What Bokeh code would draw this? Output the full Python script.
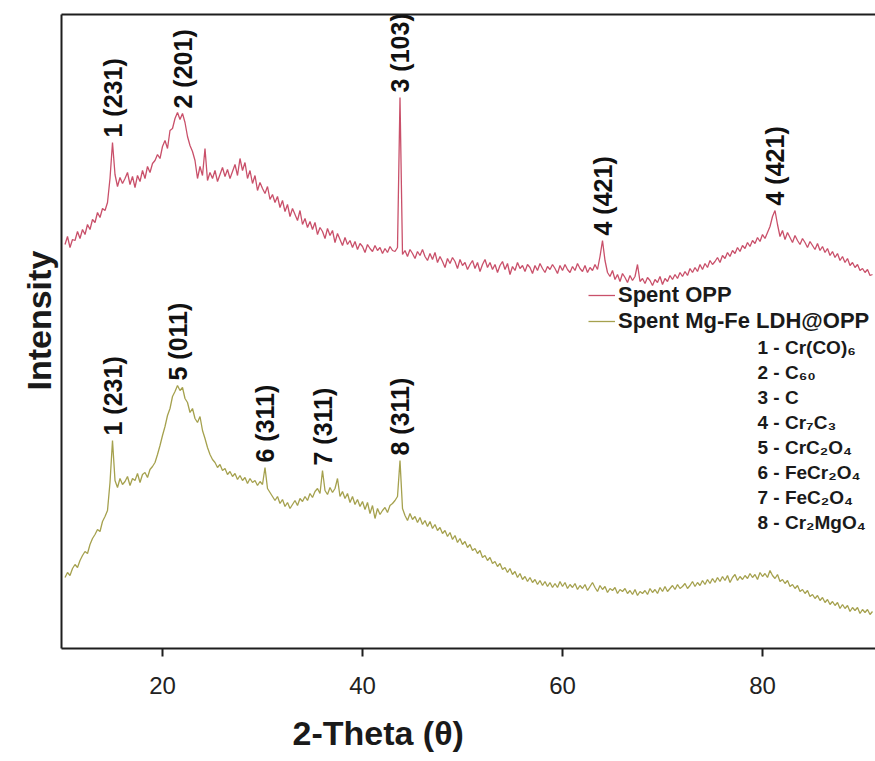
import numpy as np
from bokeh.plotting import figure
from bokeh.models import (Range1d, LinearAxis, Legend, LegendItem, Label, Title,
                          FixedTicker, ColumnDataSource)
from bokeh.core.properties import value
from bokeh.embed import file_html
from bokeh.resources import INLINE

# ---------------- data ----------------
two_theta = np.round(np.arange(10.25, 91.01, 0.25), 2)

spent_opp = [
    404, 412, 401, 409, 408, 417, 410, 419, 414, 424, 419, 429, 426, 436, 431, 440,
    438, 446, 470, 506, 474, 462, 471, 465, 470, 476, 464, 472, 461, 473, 467, 478,
    470, 482, 476, 485, 488, 494, 490, 502, 508, 500, 518, 520, 530, 536, 529, 535,
    526, 512, 503, 497, 488, 470, 482, 473, 500, 468, 476, 470, 478, 467, 474, 481,
    472, 479, 470, 477, 484, 473, 490, 478, 486, 470, 478, 465, 473, 458, 466, 460,
    455, 462, 449, 454, 446, 452, 441, 448, 437, 444, 432, 440, 434, 428, 438, 424,
    430, 421, 427, 419, 426, 414, 421, 417, 410, 420, 413, 418, 406, 415, 409, 403,
    411, 404, 408, 401, 407, 399, 405, 402, 396, 404, 400, 397, 403, 398, 401, 395,
    400, 396, 402, 398, 397, 401, 551, 394, 398, 392, 399, 395, 390, 397, 393, 399,
    392, 388, 395, 389, 396, 386, 392, 387, 381, 390, 385, 391, 387, 380, 389, 383,
    386, 379, 384, 388, 380, 386, 377, 384, 389, 381, 386, 379, 384, 376, 383, 387,
    379, 385, 374, 382, 378, 386, 380, 383, 377, 384, 381, 375, 383, 378, 385, 380,
    376, 382, 379, 384, 380, 375, 383, 378, 384, 379, 376, 382, 378, 385, 380, 377,
    383, 376, 381, 378, 384, 379, 392, 408, 388, 376, 372, 378, 369, 374, 367, 375,
    371, 366, 373, 368, 372, 384, 367, 370, 365, 371, 368, 363, 369, 366, 372, 364,
    370, 367, 373, 369, 374, 370, 376, 372, 377, 373, 380, 376, 381, 377, 384, 379,
    385, 381, 388, 384, 387, 391, 386, 393, 390, 396, 392, 398, 395, 401, 397, 403,
    400, 406, 402, 408, 405, 411, 407, 414, 410, 416, 422, 432, 438, 424, 412, 418,
    409, 416, 411, 406, 413, 408, 404, 410, 406, 401, 407, 403, 399, 405, 398, 402,
    396, 400, 393, 397, 391, 395, 388, 392, 386, 390, 383, 386, 381, 384, 378, 380,
    376, 379, 373, 374,
]

spent_mgfe_ldh = [
    71, 76, 73, 80, 84, 81, 88, 93, 97, 95, 104, 110, 114, 119, 117, 127,
    132, 138, 166, 208, 168, 161, 170, 164, 167, 172, 163, 170, 168, 175, 166, 174,
    176, 171, 179, 182, 186, 194, 203, 213, 222, 233, 240, 252, 257, 263, 258, 261,
    250, 246, 236, 240, 230, 226, 232, 218, 210, 201, 194, 189, 186, 181, 184, 178,
    180, 174, 177, 172, 175, 169, 173, 168, 171, 165, 170, 166, 168, 163, 167, 164,
    181, 160, 156, 152, 148, 152, 145, 149, 142, 146, 140, 144, 148, 143, 150, 147,
    152, 148, 155, 151, 157, 160, 155, 178, 158, 154, 161, 156, 160, 170, 152, 157,
    150, 155, 146, 152, 144, 149, 142, 147, 139, 146, 135, 143, 130, 140, 134, 138,
    141, 136, 143, 145, 148, 152, 188, 140, 133, 128, 135, 129, 132, 126, 131, 124,
    128, 122, 127, 120, 124, 118, 121, 115, 118, 112, 116, 109, 113, 106, 110, 104,
    107, 101, 104, 98, 100, 95, 98, 91, 93, 88, 91, 85, 87, 82, 85, 79,
    81, 76, 80, 74, 77, 71, 75, 69, 72, 67, 71, 66, 69, 64, 68, 63,
    67, 62, 66, 61, 65, 61, 67, 62, 66, 60, 64, 61, 65, 59, 63, 60,
    64, 58, 62, 66, 61, 57, 63, 59, 62, 56, 60, 58, 61, 55, 59, 57,
    60, 55, 58, 54, 59, 53, 57, 55, 58, 54, 60, 56, 59, 55, 61, 57,
    62, 57, 60, 63, 59, 64, 60, 62, 65, 60, 63, 67, 62, 66, 63, 68,
    64, 69, 65, 70, 66, 71, 67, 72, 68, 73, 66, 71, 74, 68, 72, 69,
    73, 70, 75, 71, 74, 69, 76, 72, 75, 71, 78, 73, 70, 74, 67, 69,
    65, 68, 62, 64, 60, 63, 57, 59, 55, 58, 52, 54, 50, 53, 48, 51,
    46, 49, 44, 47, 43, 46, 40, 44, 40, 43, 37, 41, 38, 41, 35, 39,
    36, 39, 34, 37,
]

opp_peaks = [15.0, 22.0, 43.75, 64.0, 81.25]
opp_peak_labels = ["1 (231)", "2 (201)", "3 (103)", "4 (421)", "4 (421)"]
ldh_peaks = [15.0, 21.5, 30.25, 36.0, 43.75]
ldh_peak_labels = ["1 (231)", "5 (011)", "6 (311)", "7 (311)", "8 (311)"]

phases = ["1 - Cr(CO)\u2086", "2 - C\u2086\u2080", "3 - C", "4 - Cr\u2087C\u2083",
          "5 - CrC\u2082O\u2084", "6 - FeCr\u2082O\u2084", "7 - FeC\u2082O\u2084",
          "8 - Cr\u2082MgO\u2084"]

x_ticks = [20, 40, 60, 80]

assert len(spent_opp) == len(two_theta) == len(spent_mgfe_ldh)

# ---------------- styles ----------------
RED = "#c9506a"
GREEN = "#a5a14e"
AXIS = "#1e1e1e"
FONT = "Liberation Sans"

p = figure(width=875, height=761, x_range=Range1d(9.9, 91.3), y_range=Range1d(0, 634),
           output_backend="svg", toolbar_location=None,
           min_border_left=61, min_border_right=0, min_border_top=14, min_border_bottom=113)
p.outline_line_color = None
p.grid.visible = False
p.background_fill_color = "white"
p.border_fill_color = "white"

# bottom axis
xa = p.xaxis[0]
xa.ticker = FixedTicker(ticks=x_ticks)
xa.major_tick_out = 8
xa.major_tick_in = 0
xa.minor_tick_out = 0
xa.minor_tick_in = 0
xa.axis_line_width = 2
xa.axis_line_color = AXIS
xa.major_tick_line_width = 2
xa.major_tick_line_color = AXIS
xa.major_label_text_font = FONT
xa.major_label_text_font_size = "24px"
xa.major_label_text_color = "#222222"
xa.major_label_standoff = 20

# left axis (line only)
ya = p.yaxis[0]
ya.ticker = FixedTicker(ticks=[])
ya.major_tick_out = 0
ya.major_tick_in = 0
ya.minor_tick_out = 0
ya.minor_tick_in = 0
ya.axis_line_width = 2
ya.axis_line_color = AXIS
ya.major_label_text_font_size = "0px"

# top frame line
top_axis = LinearAxis(ticker=FixedTicker(ticks=[]), major_tick_out=0, major_tick_in=0,
                      minor_tick_out=0, minor_tick_in=0, axis_line_width=2,
                      axis_line_color=AXIS, major_label_text_font_size="0px")
p.add_layout(top_axis, "above")

# axis titles (a thin spacer title pushes the x title down a little)
p.add_layout(Title(text=" ", text_font_size="1px", standoff=10), "below")
p.add_layout(Title(text="2-Theta (\u03b8)", align="left", offset=231,
                   text_font=FONT, text_font_size="34px", text_font_style="bold",
                   text_color="#1a1a1a", standoff=4), "below")
p.add_layout(Title(text="Intensity", align="left", offset=258,
                   text_font=FONT, text_font_size="34px", text_font_style="bold",
                   text_color="#1a1a1a", standoff=8), "left")

# curves
r_opp = p.line(two_theta, spent_opp, line_color=RED, line_width=1.3)
r_ldh = p.line(two_theta, spent_mgfe_ldh, line_color=GREEN, line_width=1.3)

# peak labels
def peak_height(series, x0):
    arr = np.asarray(series)
    m = np.abs(two_theta - x0) <= 0.3
    return float(arr[m].max())

lab_x = opp_peaks + ldh_peaks
lab_y = [peak_height(spent_opp, x) for x in opp_peaks] + \
        [peak_height(spent_mgfe_ldh, x) for x in ldh_peaks]
lab_t = opp_peak_labels + ldh_peak_labels
src = ColumnDataSource(dict(x=lab_x, y=lab_y, t=lab_t))
p.text(x="x", y="y", text="t", source=src, angle=np.pi / 2, text_align="left",
       text_baseline="middle", y_offset=-5, text_font=value(FONT),
       text_font_size="25px", text_font_style="bold", text_color="#111111")

# legend
legend = Legend(items=[LegendItem(label="Spent OPP", renderers=[r_opp]),
                       LegendItem(label="Spent Mg-Fe LDH@OPP", renderers=[r_ldh])],
                location=(527, 314), glyph_width=27, glyph_height=20, label_standoff=3,
                padding=0, margin=0, spacing=0, border_line_color=None,
                background_fill_alpha=0, label_text_font=FONT,
                label_text_font_size="22px", label_text_font_style="bold",
                label_text_color="#1a1a1a")
p.add_layout(legend)

# phase list
phase_y0 = 301
for i, s in enumerate(phases):
    p.add_layout(Label(x=79.5, y=phase_y0 - 25 * i, text=s, text_font=FONT,
                       text_font_size="19px", text_font_style="bold",
                       text_color="#1a1a1a", text_baseline="middle", text_align="left"))

open("out.html", "w").write(file_html(p, INLINE))
